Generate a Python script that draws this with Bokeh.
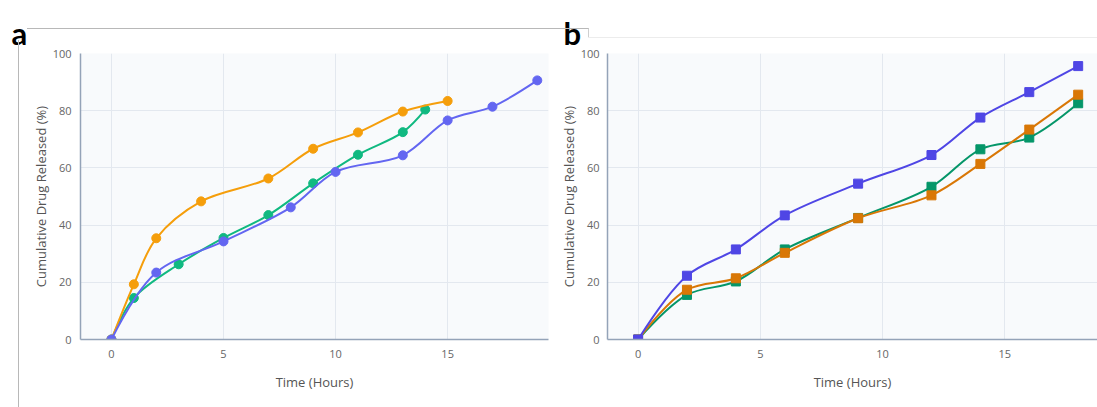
import numpy as np
from bokeh.plotting import figure
from bokeh.layouts import row
from bokeh.models import (Legend, LegendItem, Range1d, FixedTicker, ColumnDataSource,
                          InlineStyleSheet)
from bokeh.embed import file_html
from bokeh.resources import INLINE

# ---------------- data ----------------
gel_names = ["TFSOF1 Gel", "TFSOF2 Gel", "TFSOF3 Gel"]
gel1_t = [0, 1, 3, 5, 7, 9, 11, 13, 14]
gel1_v = [0, 14.5, 26.3, 35.5, 43.5, 54.6, 64.6, 72.5, 80.4]
gel2_t = [0, 1, 2, 4, 7, 9, 11, 13, 15]
gel2_v = [0, 19.3, 35.4, 48.3, 56.3, 66.7, 72.4, 79.7, 83.4]
gel3_t = [0, 2, 5, 8, 10, 13, 15, 17, 19]
gel3_v = [0, 23.4, 34.3, 46.2, 58.6, 64.4, 76.6, 81.4, 90.6]

oint_names = ["TFSOF1 Ointment", "TFSOF2 Ointment", "TFSOF3 Ointment"]
oint_t = [0, 2, 4, 6, 9, 12, 14, 16, 18]
oint1_v = [0, 15.6, 20.3, 31.5, 42.5, 53.4, 66.5, 70.6, 82.6]
oint2_v = [0, 17.4, 21.4, 30.3, 42.4, 50.4, 61.4, 73.4, 85.6]
oint3_v = [0, 22.3, 31.5, 43.4, 54.5, 64.5, 77.6, 86.5, 95.6]

x_ticks = [0, 5, 10, 15]
y_ticks = [0, 20, 40, 60, 80, 100]

gel_colors = ["#10b981", "#f59e0b", "#6366f1"]
oint_colors = ["#059669", "#d97706", "#4f46e5"]

FONT = "Open Sans"


def spline_segments(xs, ys, kx, ky, smooth=1.0):
    """Plotly-style spline through the data points, as cubic beziers in data units."""
    P = np.column_stack([np.asarray(xs, float) * kx, np.asarray(ys, float) * ky])
    n = len(P)
    tangents = []
    for i in range(1, n - 1):
        prev, cur, nxt = P[i - 1], P[i], P[i + 1]
        d1 = prev - cur
        d2 = nxt - cur
        d1a = np.hypot(*d1) ** 0.5
        d2a = np.hypot(*d2) ** 0.5
        num = (d2a * d2a * d1 - d1a * d1a * d2) * smooth
        den1 = 3 * d2a * (d1a + d2a)
        den2 = 3 * d1a * (d1a + d2a)
        tangents.append((cur + num / den1, cur - num / den2))

    def quad_to_cubic(p0, c, p1):
        return p0, p0 + 2.0 / 3.0 * (c - p0), p1 + 2.0 / 3.0 * (c - p1), p1
    segs = [quad_to_cubic(P[0], tangents[0][0], P[1])]
    for i in range(1, n - 2):
        segs.append((P[i], tangents[i - 1][1], tangents[i][0], P[i + 1]))
    segs.append(quad_to_cubic(P[n - 2], tangents[-1][1], P[n - 1]))
    d = dict(x0=[], y0=[], cx0=[], cy0=[], cx1=[], cy1=[], x1=[], y1=[])
    for a, c0, c1, b in segs:
        d["x0"].append(float(a[0] / kx)); d["y0"].append(float(a[1] / ky))
        d["cx0"].append(float(c0[0] / kx)); d["cy0"].append(float(c0[1] / ky))
        d["cx1"].append(float(c1[0] / kx)); d["cy1"].append(float(c1[1] / ky))
        d["x1"].append(float(b[0] / kx)); d["y1"].append(float(b[1] / ky))
    return d


def make_panel(fw, fh, borders, xr, series, colors, names, marker,
               ytick_standoff, letter, letter_offset, css, legend_loc):
    left, right, top, bottom = borders
    p = figure(frame_width=fw, frame_height=fh, output_backend="svg", toolbar_location=None,
               x_range=Range1d(*xr), y_range=Range1d(0, 100),
               min_border_left=left, min_border_right=right,
               min_border_top=top, min_border_bottom=bottom)
    p.background_fill_color = "#f8fafc"
    p.border_fill_color = "white"
    p.outline_line_color = None
    kx = fw / (xr[1] - xr[0])
    ky = fh / 100.0

    p.title.text = letter
    p.title.text_font = "Lato"
    p.title.text_font_style = "bold"
    p.title.text_font_size = "31px"
    p.title.text_color = "black"
    p.title.align = "left"
    p.title.offset = letter_offset
    p.title.standoff = 4

    for ax in (p.xaxis[0], p.yaxis[0]):
        ax.axis_line_color = "#94a3b8"
        ax.axis_line_width = 1.5
        ax.major_tick_line_color = None
        ax.minor_tick_line_color = None
        ax.major_label_text_font = FONT
        ax.major_label_text_font_size = "11px"
        ax.major_label_text_color = "#666666"
        ax.axis_label_text_font = FONT
        ax.axis_label_text_font_size = "13px"
        ax.axis_label_text_font_style = "normal"
        ax.axis_label_text_color = "#555555"
    p.xaxis.ticker = FixedTicker(ticks=x_ticks)
    p.yaxis.ticker = FixedTicker(ticks=y_ticks)
    p.xaxis.axis_label = "Time (Hours)"
    p.yaxis.axis_label = "Cumulative Drug Released (%)"
    p.xaxis.major_label_standoff = 4
    p.xaxis.axis_label_standoff = 12
    p.yaxis.major_label_standoff = ytick_standoff
    p.yaxis.axis_label_standoff = 0
    p.grid.grid_line_color = "#e3e8ef"
    p.grid.grid_line_width = 1

    items = []
    for (ts, vs), c, name in zip(series, colors, names):
        src = ColumnDataSource(spline_segments(ts, vs, kx, ky))
        p.bezier(x0="x0", y0="y0", x1="x1", y1="y1", cx0="cx0", cy0="cy0",
                 cx1="cx1", cy1="cy1", source=src, line_color=c, line_width=2)
        s = p.scatter(ts, vs, marker=marker, size=9, fill_color=c, line_color=c)
        lg = p.line(x=[], y=[], line_color=c, line_width=2)
        items.append(LegendItem(label=name, renderers=[lg, s]))

    # legend placed just under the x-axis title (pixels from the frame's bottom-left corner)
    leg = Legend(items=items, orientation="horizontal", location=legend_loc,
                 border_line_alpha=0, background_fill_alpha=0,
                 label_text_font=FONT, label_text_font_size="10px",
                 label_text_color="#555555",
                 glyph_width=30, glyph_height=12, label_height=12,
                 spacing=20, padding=0, margin=0, label_standoff=6)
    p.add_layout(leg, "center")
    p.stylesheets = [InlineStyleSheet(css=css)]
    return p


css_a = """
:host::before { content: ""; position: absolute; left: 27px; top: 28px; width: 528px;
  height: 1px; background: #b8b8b8; z-index: 5; pointer-events: none; }
:host::after { content: ""; position: absolute; left: 18px; top: 40px; width: 1px;
  height: 367px; background: #b8b8b8; z-index: 5; pointer-events: none; }
"""
css_b = """
:host::before { content: ""; position: absolute; left: 0px; top: 28px; width: 34px;
  height: 10px; box-sizing: border-box; border-top: 1px solid #b8b8b8;
  border-right: 1px solid #cfcfcf; z-index: 5; pointer-events: none; }
:host::after { content: ""; position: absolute; left: 33px; top: 37px; width: 509px;
  height: 1px; background: #ececec; z-index: 5; pointer-events: none; }
"""

pa = make_panel(468, 286, (80, 7, 53, 68), (-1.38, 19.5),
                [(gel1_t, gel1_v), (gel2_t, gel2_v), (gel3_t, gel3_v)],
                gel_colors, gel_names, "circle", 3, "a", -69, css_a, (95, -64))
pb = make_panel(490, 286, (52, 0, 53, 68), (-1.25, 18.79),
                [(oint_t, oint1_v), (oint_t, oint2_v), (oint_t, oint3_v)],
                oint_colors, oint_names, "square", 2, "b", -44, css_b, (53, -61))

layout = row(pa, pb, spacing=0)
open("out.html", "w").write(file_html(layout, INLINE))
